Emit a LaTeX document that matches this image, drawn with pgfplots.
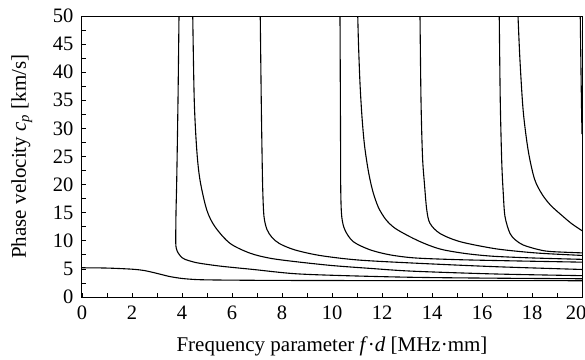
\documentclass[border=0pt]{standalone}
\usepackage{fontspec}
\setmainfont{Liberation Serif}
\usepackage{pgfplots}
\pgfplotsset{compat=1.18}
\usetikzlibrary{calc}
\pgfplotsset{mode/.style={black, solid, line width=1.1pt, smooth, tension=0.5, mark=none}}
\begin{document}
\begin{tikzpicture}
\begin{axis}[name=ax,
  width=500pt, height=281pt, scale only axis,
  xmin=0, xmax=20, ymin=0, ymax=50,
  xtick={0,2,...,18}, extra x ticks={20},
  extra x tick style={xticklabel style={xshift=-6pt}},
  minor xtick={1,3,...,19},
  ytick={0,5,...,50}, minor ytick={2.5,7.5,...,47.5},
  tick align=inside, xtick pos=bottom, ytick pos=left,
  major tick length=4pt, minor tick length=4pt,
  tick style={black, line width=0.8pt},
  axis line style={black, line width=1pt},
  /pgf/number format/assume math mode=true,
  tick label style={font=\fontsize{20.5}{24}\selectfont},
  xticklabel style={yshift=-5pt},
  yticklabel style={xshift=-5pt},
  label style={font=\fontsize{21}{25}\selectfont},
  xlabel={Frequency parameter \textit{f}·\textit{d} [MHz·mm]},
  ylabel={Phase velocity \textit{c}\textsubscript{\textit{p}} [km/s]},
  xlabel style={at={(axis description cs:0.5,-0.195)}, anchor=base},
  ylabel style={at={(axis description cs:-0.112,0.5)}, anchor=base},
]
% S0
\addplot[mode] coordinates {(0,5.2)(1,5.15)(2,4.95)(2.5,4.7)(3,4.2)(3.5,3.65)(4,3.3)(4.5,3.12)(5,3.05)(6,3.0)(8,2.95)(12,2.92)(20,2.9)};
% A
\addplot[mode] coordinates {(3.88,50)(3.84,35)(3.79,21)(3.76,15)(3.75,10)(3.77,8.7)(3.85,7.8)(4.0,7.0)(4.12,6.7)(4.59,6.1)(5.52,5.5)(6.85,4.9)(8.5,4.15)(10.5,3.8)(13.3,3.5)(16.5,3.35)(20,3.25)};
% B
\addplot[mode] coordinates {(4.43,50)(4.49,35)(4.59,26.2)(4.72,20.8)(4.99,15.5)(5.32,12.5)(5.92,9.55)(6.72,7.8)(7.52,6.9)(8.52,6.3)(10,5.6)(11.5,5.1)(13.2,4.6)(16.5,4.1)(20,3.8)};
% C
\addplot[mode] coordinates {(7.13,50)(7.17,35)(7.2,26)(7.23,19)(7.28,14.3)(7.4,12)(7.6,10.6)(7.9,9.5)(8.5,8.4)(9.5,7.4)(11,6.6)(13.2,6.05)(16.5,5.4)(20,4.9)};
% D
\addplot[mode] coordinates {(10.32,50)(10.34,30)(10.35,19)(10.39,14.3)(10.52,11.9)(10.85,9.85)(11.52,8.4)(12.32,7.5)(13.32,6.95)(15,6.65)(17,6.45)(20,6.2)};
% E
\addplot[mode] coordinates {(11.03,50)(11.06,45)(11.12,38)(11.2,32)(11.3,27)(11.45,22.5)(11.62,19)(11.85,16)(12.15,13.8)(12.5,12.3)(13.0,11.0)(13.5,9.9)(14.0,9.0)(14.5,8.35)(15.4,7.7)(16.45,7.25)(18,6.95)(20,6.7)};
% F
\addplot[mode] coordinates {(13.52,50)(13.56,35)(13.62,25)(13.7,20)(13.79,15.5)(13.92,13.1)(14.32,11.3)(15.12,9.85)(16.45,8.65)(17.5,8.1)(18.45,7.75)(20,7.4)};
% G
\addplot[mode] coordinates {(16.69,50)(16.73,35)(16.79,24)(16.85,18.5)(16.92,14.3)(17.12,11.3)(17.35,10.1)(17.65,9.25)(18.2,8.5)(18.72,8.1)(20,7.85)};
% H
\addplot[mode] coordinates {(17.44,50)(17.52,42)(17.65,33)(17.85,26)(18.1,21)(18.4,18.3)(18.75,16.3)(19.25,14.3)(19.6,13)(20,11.8)};
% right-edge mode
\addplot[mode] coordinates {(19.93,50)(19.96,40)(19.98,34)(20,29)};
\end{axis}
\pgfresetboundingbox
\path[use as bounding box] ($(ax.south west)+(-82pt,-62pt)$) rectangle ($(ax.north east)+(3pt,16pt)$);
\end{tikzpicture}
\end{document}
